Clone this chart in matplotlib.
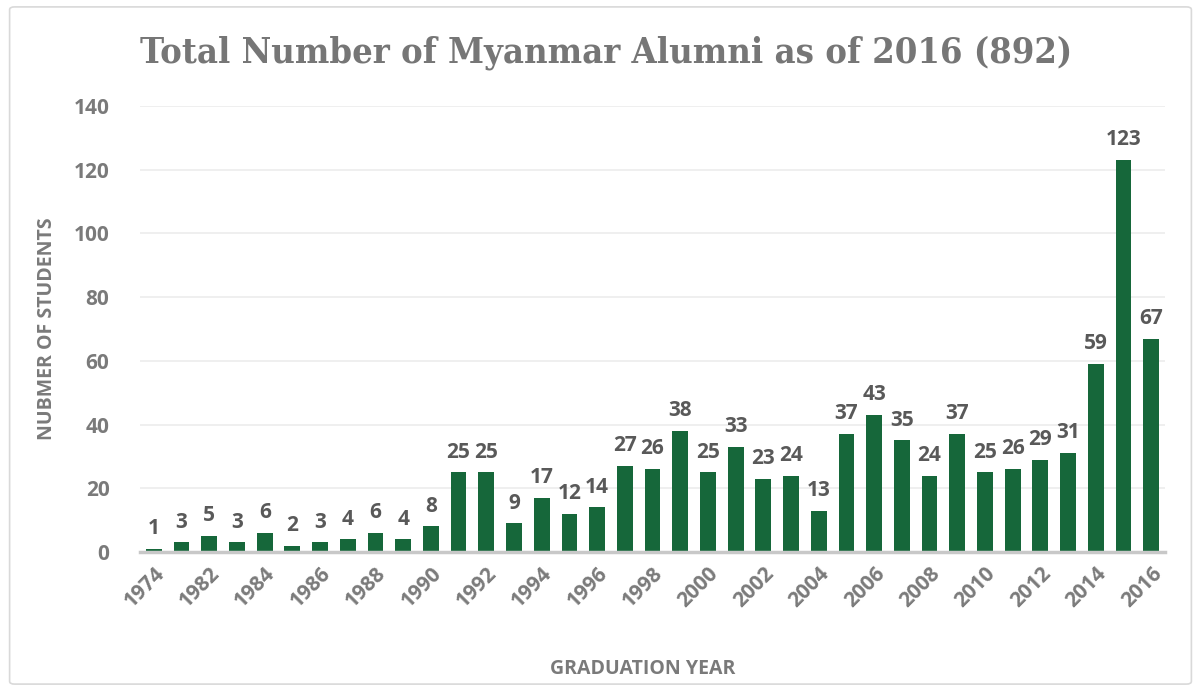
import matplotlib

matplotlib.use("Agg")
import matplotlib.pyplot as plt
from matplotlib.patches import FancyBboxPatch

# Graduation years (category 1 has no visible tick label in the source)
years = ["1974", "1981", "1982", "1983", "1984", "1985", "1986", "1987", "1988",
         "1989", "1990", "1991", "1992", "1993", "1994", "1995", "1996", "1997",
         "1998", "1999", "2000", "2001", "2002", "2003", "2004", "2005", "2006",
         "2007", "2008", "2009", "2010", "2011", "2012", "2013", "2014", "2015",
         "2016"]
students = [1, 3, 5, 3, 6, 2, 3, 4, 6, 4, 8, 25, 25, 9, 17, 12, 14, 27, 26, 38,
            25, 33, 23, 24, 13, 37, 43, 35, 24, 37, 25, 26, 29, 31, 59, 123, 67]
y_ticks = [0, 20, 40, 60, 80, 100, 120, 140]

BAR = "#16673a"
GRAY = "#7a7a7a"
LABEL = "#595959"
SANS = "Open Sans"

fig = plt.figure(figsize=(12.01, 6.91), dpi=100)
fig.patches.append(FancyBboxPatch((0.008, 0.01), 0.984, 0.98,
                                  boxstyle="round,pad=0,rounding_size=0.004",
                                  transform=fig.transFigure, fill=False,
                                  edgecolor="#d9d9d9", linewidth=1.2))

ax = fig.add_axes([0.1166, 0.2012, 0.8534, 0.6454])
x = list(range(len(years)))
ax.bar(x, students, width=0.57, color=BAR, zorder=3)

for xi, v in zip(x, students):
    ax.annotate(str(v), (xi, v), xytext=(0, 7), textcoords="offset points",
                ha="center", va="bottom", fontsize=15, fontweight="bold",
                color=LABEL, family=SANS)

ax.set_xlim(-0.5, len(years) - 0.5)
ax.set_ylim(0, 140)
ax.set_yticks(y_ticks)
ax.set_yticklabels([str(t) for t in y_ticks], fontsize=15, fontweight="bold",
                   color=GRAY, family=SANS)
ax.set_xticks(x[::2])
ax.set_xticklabels(years[::2], rotation=45, ha="right", rotation_mode="anchor",
                   fontsize=15, fontweight="bold", color=GRAY, family=SANS)
ax.tick_params(axis="both", length=0)
ax.tick_params(axis="y", pad=22)
ax.tick_params(axis="x", pad=8)

ax.grid(axis="y", color="#ececec", linewidth=1.2, zorder=0)
for side in ["top", "right", "left"]:
    ax.spines[side].set_visible(False)
ax.spines["bottom"].set_color("#c8c8c8")
ax.spines["bottom"].set_linewidth(2.5)
ax.spines["bottom"].set_zorder(4)

ax.set_ylabel("NUBMER OF STUDENTS", fontsize=14, fontweight="bold",
              color=GRAY, family=SANS, labelpad=12)
fig.text(0.535, 0.032, "GRADUATION YEAR", ha="center", va="center",
         fontsize=14, fontweight="bold", color=GRAY, family=SANS)

fig.text(0.505, 0.923, "Total Number of Myanmar Alumni as of 2016 (892)",
         ha="center", va="center", fontsize=26, fontweight="bold",
         color="#767676", family="DejaVu Serif", fontstretch="condensed")

fig.savefig("out.png", dpi=100)
